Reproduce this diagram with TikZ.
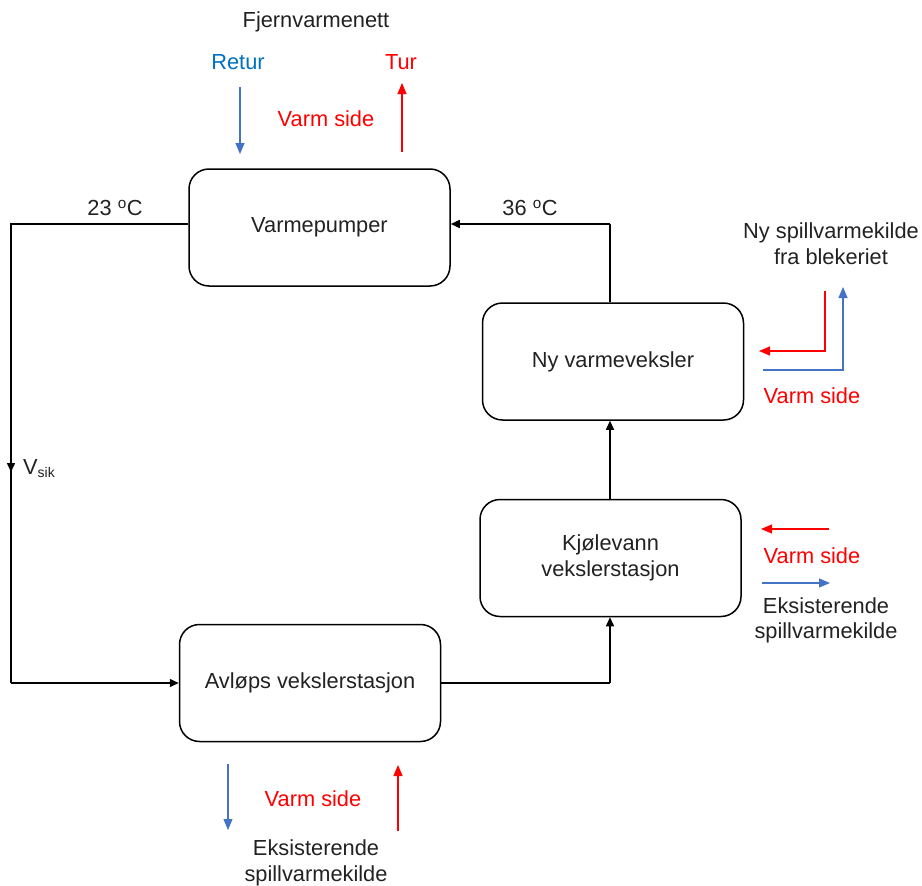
\documentclass[tikz,border=0pt]{standalone}
\usepackage{fontspec}
\setmainfont{Liberation Sans}
\usetikzlibrary{arrows.meta}
\definecolor{cblue}{RGB}{68,114,196}
\definecolor{cred}{RGB}{255,0,0}
\definecolor{cretur}{RGB}{0,112,192}
\definecolor{ctxt}{RGB}{34,34,34}
\begin{document}
\begin{tikzpicture}[x=1pt,y=-1pt,
  font=\fontsize{21.8}{25.5}\selectfont,
  box/.style={draw=black, line width=1.5pt, rounded corners=20pt, minimum width=261pt, minimum height=117pt, text=ctxt, align=center, inner sep=0pt},
  flow/.style={draw=black, line width=1.5pt, -{Triangle[length=9pt,width=8pt]}},
  line/.style={draw=black, line width=1.5pt},
  hot/.style={draw=cred, line width=1.1pt, -{Triangle[length=11pt,width=9pt]}},
  cold/.style={draw=cblue, line width=1.1pt, -{Triangle[length=11pt,width=9pt]}},
  lbl/.style={text=ctxt, align=center, inner sep=0pt},
  redlbl/.style={text=cred, inner sep=0pt},
]
\useasboundingbox (0,0) rectangle (922,886);

% boxes
\node[box] (vp) at (319.5,227.5) {Varmepumper};
\node[box] (nv) at (613,361.5) {Ny varmeveksler};
\node[box] (kj) at (610.5,558) {Kjølevann\\vekslerstasjon};
\node[box] (av) at (310,683) {Avløps vekslerstasjon};

% main loop
\coordinate (vpL) at ([yshift=3.5pt]vp.west);
\coordinate (vpR) at ([yshift=3.5pt]vp.east);
\coordinate (cTL) at (11,224);
\coordinate (cBL) at (11,683);
\coordinate (cBR) at (610,683);
\coordinate (cTR) at (610,224);
\coordinate (vs1) at (11,455);
\coordinate (vs2) at (11,472);
\draw[line] (vpL) -- (cTL) -- (cBL);
\draw[flow] (cBL) -- (av.west);
\draw[flow] (vs1) -- (vs2);
\draw[line] (av.east) -- (cBR);
\draw[flow] (cBR) -- (kj.south -| cBR);
\draw[flow] (kj.north -| cBR) -- (nv.south -| cBR);
\draw[line] (nv.north -| cTR) -- (cTR);
\draw[flow] (cTR) -- (vpR);

\node[lbl] (t23) at (115,208) {23 \textsuperscript{o}C};
\node[lbl] (t36) at (530,208) {36 \textsuperscript{o}C};
\node[lbl, anchor=west] (vsik) at (23,469) {V\textsubscript{\fontsize{14}{14}\selectfont sik}};

% top
\node[lbl] (fj) at (316,22) {Fjernvarmenett};
\node[text=cretur, inner sep=0pt] (retur) at (238,62) {Retur};
\node[redlbl] (tur) at (401,62) {Tur};
\node[redlbl] (vs_top) at (326,119) {Varm side};
\coordinate (rt1) at (240,87);
\coordinate (rt2) at (240,154);
\coordinate (tu1) at (402,152);
\coordinate (tu2) at (402,83);
\draw[cold] (rt1) -- (rt2);
\draw[hot] (tu1) -- (tu2);

% right top
\node[lbl] (nys) at (831,243.5) {Ny spillvarmekilde\\fra blekeriet};
\coordinate (r1) at (825,291);
\coordinate (r2) at (825,351);
\coordinate (r3) at (759,351);
\draw[hot] (r1) -- (r2) -- (r3);
\coordinate (b1) at (763,370);
\coordinate (b2) at (843,370);
\coordinate (b3) at (843,287);
\draw[cold] (b1) -- (b2) -- (b3);
\node[redlbl] (vs_r1) at (812,396) {Varm side};

% right middle
\coordinate (m1) at (829,529);
\coordinate (m2) at (761,529);
\draw[hot] (m1) -- (m2);
\node[redlbl] (vs_r2) at (812,556) {Varm side};
\coordinate (m3) at (762,583);
\coordinate (m4) at (830,583);
\draw[cold] (m3) -- (m4);
\node[lbl] (eks_r) at (826,620.5) {Eksisterende\\spillvarmekilde};

% bottom
\coordinate (d1) at (228,764);
\coordinate (d2) at (228,830);
\draw[cold] (d1) -- (d2);
\coordinate (u1) at (398,831);
\coordinate (u2) at (398,765);
\draw[hot] (u1) -- (u2);
\node[redlbl] (vs_b) at (313,799) {Varm side};
\node[lbl] (eks_b) at (316,863) {Eksisterende\\spillvarmekilde};
\end{tikzpicture}
\end{document}
